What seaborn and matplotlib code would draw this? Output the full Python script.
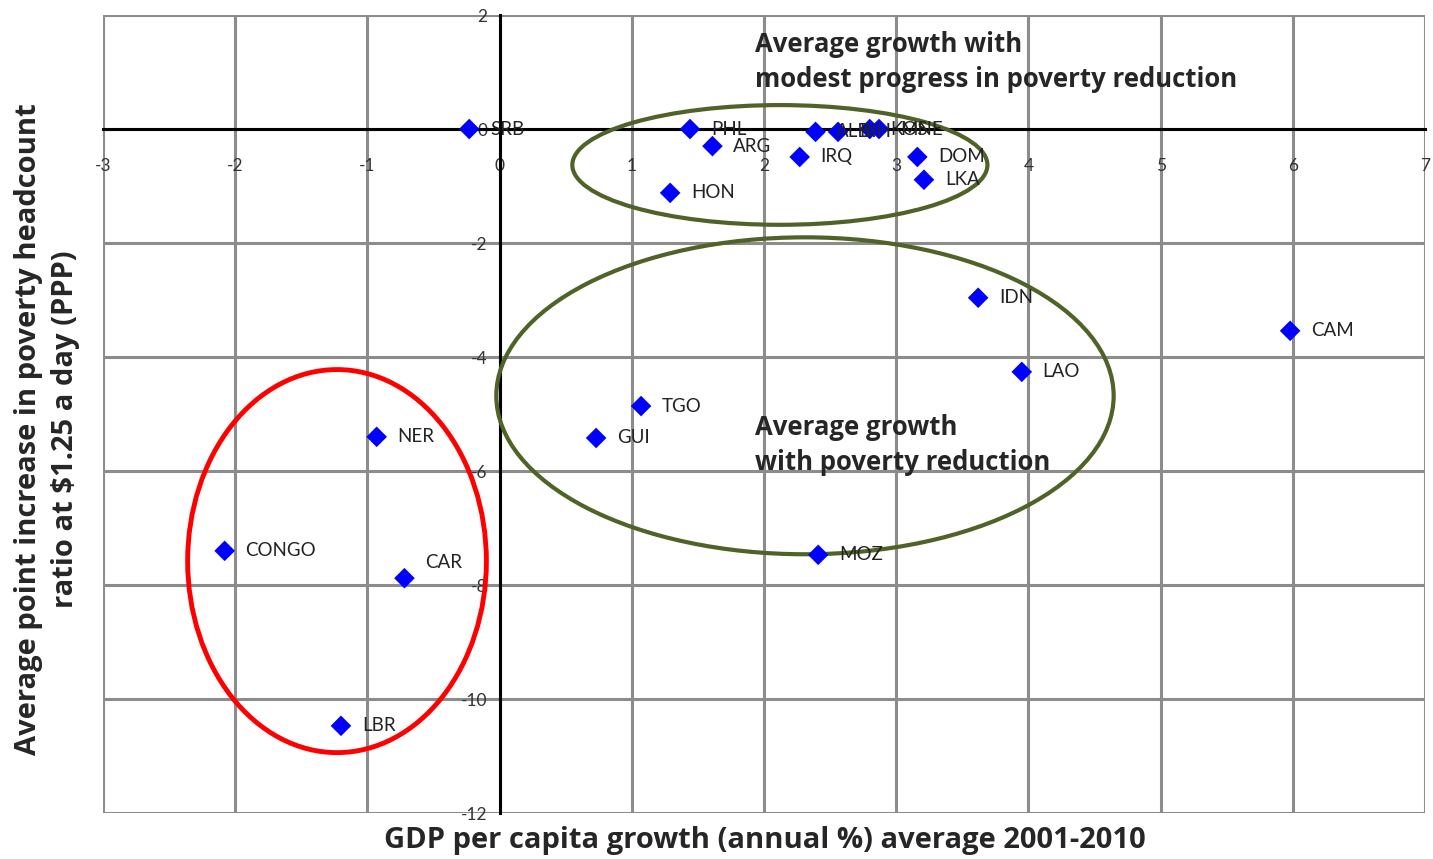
import matplotlib
matplotlib.use("Agg")
import matplotlib.pyplot as plt
from matplotlib.patches import Ellipse
import seaborn as sns
import pandas as pd

# Country codes and their (growth, poverty change) coordinates
countries = ["SRB", "PHL", "ARG", "HON", "IRQ", "ALB", "BIH", "KOS", "MNE",
             "DOM", "LKA", "IDN", "LAO", "CAM", "TGO", "GUI", "MOZ",
             "NER", "CONGO", "CAR", "LBR"]
gdp_growth = [-0.23, 1.44, 1.61, 1.29, 2.27, 2.39, 2.56, 2.80, 2.87,
              3.16, 3.21, 3.62, 3.95, 5.98, 1.07, 0.73, 2.41,
              -0.93, -2.08, -0.72, -1.20]
poverty_change = [0.0, 0.0, -0.30, -1.12, -0.49, -0.05, -0.05, 0.0, 0.0,
                  -0.49, -0.89, -2.96, -4.26, -3.54, -4.86, -5.42, -7.47,
                  -5.40, -7.40, -7.88, -10.47]

x_ticks = [-3, -2, -1, 0, 1, 2, 3, 4, 5, 6, 7]
y_ticks = [-12, -10, -8, -6, -4, -2, 0, 2]

df = pd.DataFrame({"country": countries, "growth": gdp_growth, "poverty": poverty_change})

sns.set_theme(style="white")
plt.rcParams["font.family"] = ["Lato", "DejaVu Sans"]
BOLD_FONT = ["Open Sans", "DejaVu Sans"]

fig = plt.figure(figsize=(14.33, 8.59), dpi=100)
ax = fig.add_axes([0.0719, 0.0535, 0.9225, 0.929])

ax.set_xlim(-3, 7)
ax.set_ylim(-12, 2)
ax.set_xticks(x_ticks)
ax.set_yticks(y_ticks)

# Grey grid forming the outer frame and cells
for xv in x_ticks:
    ax.axvline(xv, color="#8c8c8c", lw=2.2, zorder=0)
for yv in y_ticks:
    ax.axhline(yv, color="#8c8c8c", lw=2.2, zorder=0)

# Axes crossing at the origin
for side in ["top", "right"]:
    ax.spines[side].set_visible(False)
ax.spines["left"].set_position(("data", 0))
ax.spines["bottom"].set_position(("data", 0))
for side in ["left", "bottom"]:
    ax.spines[side].set_color("black")
    ax.spines[side].set_linewidth(2.2)
    ax.spines[side].set_zorder(1)
ax.tick_params(axis="both", direction="out", length=5, width=2, color="black",
               labelsize=12.5, labelcolor="#333333", pad=16)
ax.tick_params(axis="y", pad=4)
ax.set_xticklabels([str(t) for t in x_ticks])
ax.set_yticklabels([str(t) for t in y_ticks])

# Group outlines
ax.add_patch(Ellipse((2.12, -0.63), 3.14, 2.1, fill=False, edgecolor="#4F6228", lw=3, zorder=2))
ax.add_patch(Ellipse((2.31, -4.68), 4.67, 5.56, fill=False, edgecolor="#4F6228", lw=3, zorder=2))
ax.add_patch(Ellipse((-1.23, -7.58), 2.26, 6.72, fill=False, edgecolor="#FF0000", lw=3.5, zorder=2))

sns.scatterplot(data=df, x="growth", y="poverty", marker="D", color="#0000FF",
                s=110, edgecolor="none", ax=ax, zorder=4)

for name, gx, py in zip(countries, gdp_growth, poverty_change):
    dy = 11 if name == "CAR" else 0
    ax.annotate(name, (gx, py), xytext=(15, dy), textcoords="offset points",
                ha="left", va="center", fontsize=13.5, color="#222222", zorder=5)

ax.text(1.93, 1.72, "Average growth with\nmodest progress in poverty reduction",
        ha="left", va="top", fontsize=18.5, fontweight="bold", family=BOLD_FONT,
        linespacing=1.4, zorder=5)
ax.text(1.93, -5.0, "Average growth\nwith poverty reduction",
        ha="left", va="top", fontsize=18.5, fontweight="bold", family=BOLD_FONT,
        linespacing=1.4, zorder=5)

fig.text(0.534, 0.022, "GDP per capita growth (annual %) average 2001-2010",
         ha="center", va="center", fontsize=21, fontweight="bold", family=BOLD_FONT)
fig.text(0.033, 0.50, "Average point increase in poverty headcount\nratio at $1.25 a day (PPP)",
         ha="center", va="center", rotation=90, fontsize=21, fontweight="bold",
         family=BOLD_FONT, linespacing=1.35)

ax.set_xlabel("")
ax.set_ylabel("")

fig.savefig("out.png", dpi=100)
